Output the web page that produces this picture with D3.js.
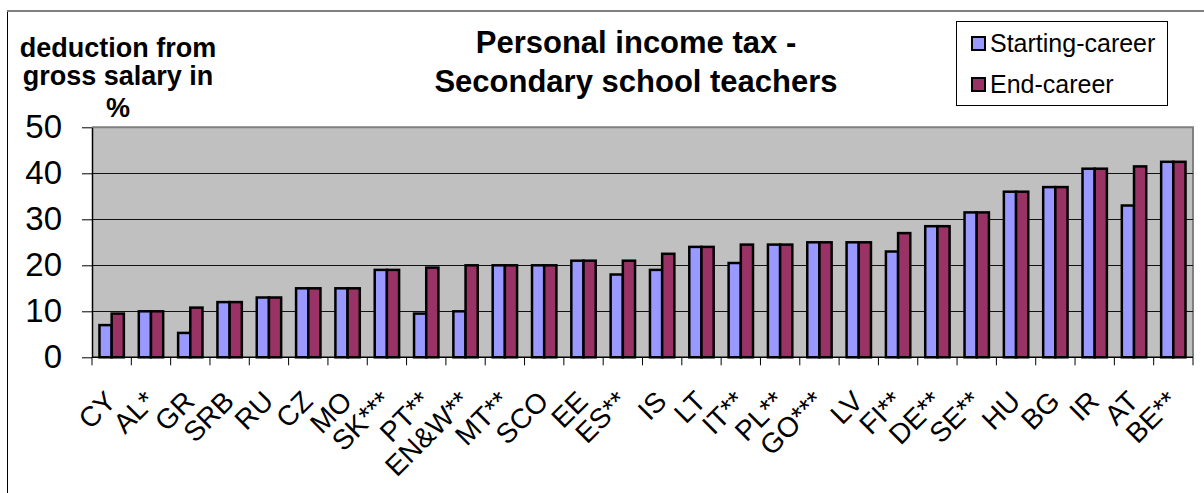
<!DOCTYPE html>
<html>
<head>
<meta charset="utf-8">
<script src="https://cdn.jsdelivr.net/npm/d3@7"></script>
<style>
  html, body { margin: 0; padding: 0; background: #fff; }
  svg { display: block; font-family: Arial, "Liberation Sans", sans-serif; }
</style>
</head>
<body>
<svg id="chart" width="1204" height="493"></svg>
<script>
// Personal income tax, % deducted from gross salary (secondary school teachers)
const categories = ["CY", "AL*", "GR", "SRB", "RU", "CZ", "MO", "SK***", "PT**", "EN&W**",
  "MT**", "SCO", "EE", "ES**", "IS", "LT", "IT**", "PL**", "GO***", "LV",
  "FI**", "DE**", "SE**", "HU", "BG", "IR", "AT", "BE**"];
const startCareer = [7, 10, 5.3, 12, 13, 15, 15, 19, 9.5, 10,
  20, 20, 21, 18, 19, 24, 20.5, 24.5, 25, 25,
  23, 28.5, 31.5, 36, 37, 41, 33, 42.5];
const endCareer = [9.5, 10, 10.8, 12, 13, 15, 15, 19, 19.5, 20,
  20, 20, 21, 21, 22.5, 24, 24.5, 24.5, 25, 25,
  27, 28.5, 31.5, 36, 37, 41, 41.5, 42.5];
const seriesNames = ["Starting-career", "End-career"];
const seriesColors = ["#9999FF", "#993366"];
const yTicks = [0, 10, 20, 30, 40, 50];
const titleLines = ["Personal income tax -", "Secondary school teachers"];
const yTitleLines = ["deduction from", "gross salary in", "%"];

const svg = d3.select("#chart");
const plot = { left: 92, right: 1193, top: 127.3, bottom: 357.3 };

// chart frame
svg.append("rect")
  .attr("x", 7.5).attr("y", 11).attr("width", 1260).attr("height", 520)
  .attr("fill", "#fff").attr("stroke", "#000").attr("stroke-width", 1);
svg.append("line")
  .attr("x1", 7).attr("x2", 1204).attr("y1", 11).attr("y2", 11)
  .attr("stroke", "#808080").attr("stroke-width", 2);

const x = d3.scaleBand().domain(categories)
  .range([plot.left, plot.right]).paddingInner(0.38).paddingOuter(0.19);
const xs = d3.scaleBand().domain(seriesNames).range([0, x.bandwidth()]);
const y = d3.scaleLinear().domain([0, 50]).range([plot.bottom, plot.top]);

// plot area
svg.append("rect")
  .attr("x", plot.left).attr("y", plot.top)
  .attr("width", plot.right - plot.left).attr("height", plot.bottom - plot.top)
  .attr("fill", "#C0C0C0");
svg.append("path")
  .attr("d", `M${plot.left},${plot.top}H${plot.right}V${plot.bottom}`)
  .attr("fill", "none").attr("stroke", "#808080").attr("stroke-width", 2);

// gridlines
svg.append("g").selectAll("line")
  .data(yTicks.filter(t => t > 0 && t < 50))
  .join("line")
  .attr("x1", plot.left).attr("x2", plot.right)
  .attr("y1", d => Math.round(y(d)) + 0.5).attr("y2", d => Math.round(y(d)) + 0.5)
  .attr("stroke", "#111").attr("stroke-width", 1);

// bars
const rows = categories.map((c, i) => ({ c, v: [startCareer[i], endCareer[i]] }));
const groups = svg.append("g").selectAll("g")
  .data(rows).join("g")
  .attr("transform", d => `translate(${x(d.c)},0)`);
groups.selectAll("rect")
  .data(d => d.v.map((v, k) => ({ k, v })))
  .join("rect")
  .attr("x", d => xs(seriesNames[d.k]))
  .attr("y", d => y(d.v))
  .attr("width", xs.bandwidth())
  .attr("height", d => y(0) - y(d.v))
  .attr("fill", d => seriesColors[d.k])
  .attr("stroke", "#000").attr("stroke-width", 2.5);

// y axis
const yAxis = svg.append("g")
  .attr("transform", `translate(${plot.left},0)`)
  .call(d3.axisLeft(y).tickValues(yTicks).tickSize(10).tickPadding(20).tickSizeOuter(0));
yAxis.select(".domain").attr("stroke", "#000").attr("stroke-width", 1.5);
yAxis.selectAll(".tick line").attr("stroke", "#000");
yAxis.selectAll(".tick text")
  .attr("font-size", 33).attr("fill", "#000")
  .attr("font-family", "Arial, 'Liberation Sans', sans-serif");

// x axis line and category boundary ticks
const step = x.step();
svg.append("line")
  .attr("x1", plot.left).attr("x2", plot.right)
  .attr("y1", plot.bottom).attr("y2", plot.bottom)
  .attr("stroke", "#000").attr("stroke-width", 1.5);
svg.append("g").selectAll("line")
  .data(d3.range(categories.length + 1))
  .join("line")
  .attr("x1", i => plot.left + i * step).attr("x2", i => plot.left + i * step)
  .attr("y1", plot.bottom).attr("y2", plot.bottom + 8)
  .attr("stroke", "#000").attr("stroke-width", 1);

// category labels
svg.append("g").selectAll("text")
  .data(categories).join("text")
  .attr("transform", d => `translate(${x(d) + x.bandwidth() / 2 + 6},403) rotate(-45)`)
  .attr("text-anchor", "end")
  .attr("font-size", 28)
  .attr("fill", "#000")
  .text(d => d);

// title
svg.append("text")
  .attr("x", 636).attr("text-anchor", "middle")
  .attr("font-size", 31).attr("font-weight", "bold")
  .selectAll("tspan").data(titleLines).join("tspan")
  .attr("x", 636).attr("y", (d, i) => 53 + i * 39)
  .text(d => d);

// y axis title
svg.append("text")
  .attr("text-anchor", "middle")
  .attr("font-size", 27).attr("font-weight", "bold")
  .selectAll("tspan").data(yTitleLines).join("tspan")
  .attr("x", 118).attr("y", (d, i) => [57, 85, 117][i])
  .text(d => d);

// legend
const legend = svg.append("g");
legend.append("rect")
  .attr("x", 956.5).attr("y", 21.5).attr("width", 211).attr("height", 84)
  .attr("fill", "#fff").attr("stroke", "#000").attr("stroke-width", 1);
const items = legend.selectAll("g.item")
  .data(seriesNames).join("g")
  .attr("class", "item")
  .attr("transform", (d, i) => `translate(972,${[37, 78][i]})`);
items.append("rect")
  .attr("width", 13).attr("height", 13)
  .attr("fill", (d, i) => seriesColors[i])
  .attr("stroke", "#000").attr("stroke-width", 2);
items.append("text")
  .attr("x", 18).attr("y", 14.5)
  .attr("font-size", 25).attr("fill", "#000")
  .text(d => d);
</script>
</body>
</html>
